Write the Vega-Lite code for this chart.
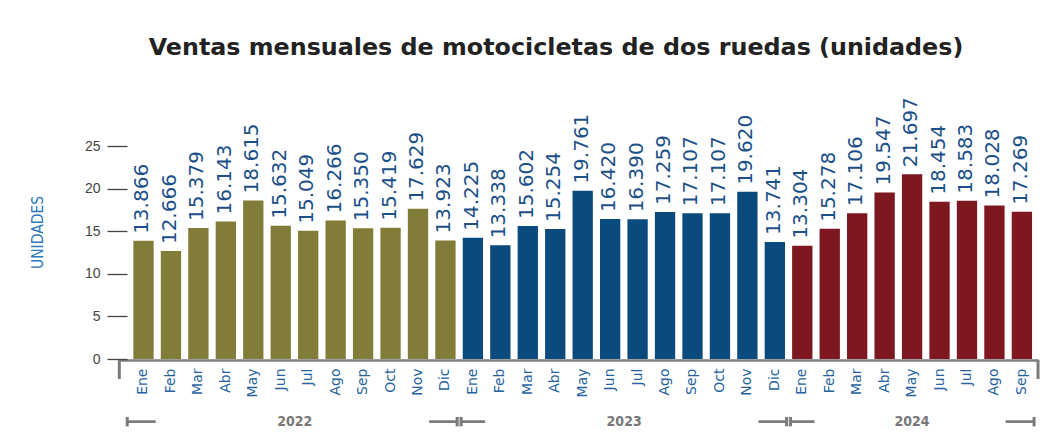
{
  "$schema": "https://vega.github.io/schema/vega-lite/v6.json",
  "width": 920,
  "height": 213,
  "autosize": "none",
  "padding": {"left": 118, "top": 146, "right": 26, "bottom": 87},
  "background": "white",
  "config": {"view": {"stroke": null}},
  "title": {
    "text": "Ventas mensuales de motocicletas de dos ruedas (unidades)",
    "font": "DejaVu Sans",
    "fontSize": 23.8,
    "fontWeight": "bold",
    "color": "#222222",
    "anchor": "middle",
    "dx": -22,
    "offset": 37
  },
  "datasets": {
    "ventas": [
      {"m": "Ene 2022", "year": "2022", "v": 13.866},
      {"m": "Feb 2022", "year": "2022", "v": 12.666},
      {"m": "Mar 2022", "year": "2022", "v": 15.379},
      {"m": "Abr 2022", "year": "2022", "v": 16.143},
      {"m": "May 2022", "year": "2022", "v": 18.615},
      {"m": "Jun 2022", "year": "2022", "v": 15.632},
      {"m": "Jul 2022", "year": "2022", "v": 15.049},
      {"m": "Ago 2022", "year": "2022", "v": 16.266},
      {"m": "Sep 2022", "year": "2022", "v": 15.350},
      {"m": "Oct 2022", "year": "2022", "v": 15.419},
      {"m": "Nov 2022", "year": "2022", "v": 17.629},
      {"m": "Dic 2022", "year": "2022", "v": 13.923},
      {"m": "Ene 2023", "year": "2023", "v": 14.225},
      {"m": "Feb 2023", "year": "2023", "v": 13.338},
      {"m": "Mar 2023", "year": "2023", "v": 15.602},
      {"m": "Abr 2023", "year": "2023", "v": 15.254},
      {"m": "May 2023", "year": "2023", "v": 19.761},
      {"m": "Jun 2023", "year": "2023", "v": 16.420},
      {"m": "Jul 2023", "year": "2023", "v": 16.390},
      {"m": "Ago 2023", "year": "2023", "v": 17.259},
      {"m": "Sep 2023", "year": "2023", "v": 17.107},
      {"m": "Oct 2023", "year": "2023", "v": 17.107},
      {"m": "Nov 2023", "year": "2023", "v": 19.620},
      {"m": "Dic 2023", "year": "2023", "v": 13.741},
      {"m": "Ene 2024", "year": "2024", "v": 13.304},
      {"m": "Feb 2024", "year": "2024", "v": 15.278},
      {"m": "Mar 2024", "year": "2024", "v": 17.106},
      {"m": "Abr 2024", "year": "2024", "v": 19.547},
      {"m": "May 2024", "year": "2024", "v": 21.697},
      {"m": "Jun 2024", "year": "2024", "v": 18.454},
      {"m": "Jul 2024", "year": "2024", "v": 18.583},
      {"m": "Ago 2024", "year": "2024", "v": 18.028},
      {"m": "Sep 2024", "year": "2024", "v": 17.269}
    ],
    "seg": [
      {"a": "Ene 2022", "b": "Ene 2022"},
      {"a": "Dic 2022", "b": "Ene 2023"},
      {"a": "Dic 2023", "b": "Ene 2024"},
      {"a": "Sep 2024", "b": "Sep 2024"}
    ],
    "first": [{"a": "Ene 2022"}],
    "last": [{"a": "Sep 2024"}],
    "dbl": [{"a": "Ene 2023"}, {"a": "Ene 2024"}]
  },
  "layer": [
    {
      "data": {"name": "ventas"},
      "mark": {"type": "bar"},
      "encoding": {
        "x": {
          "field": "m",
          "type": "ordinal",
          "sort": null,
          "scale": {
            "domain": ["Ene 2022","Feb 2022","Mar 2022","Abr 2022","May 2022","Jun 2022","Jul 2022","Ago 2022","Sep 2022","Oct 2022","Nov 2022","Dic 2022","Ene 2023","Feb 2023","Mar 2023","Abr 2023","May 2023","Jun 2023","Jul 2023","Ago 2023","Sep 2023","Oct 2023","Nov 2023","Dic 2023","Ene 2024","Feb 2024","Mar 2024","Abr 2024","May 2024","Jun 2024","Jul 2024","Ago 2024","Sep 2024"],
            "paddingInner": 0.26,
            "paddingOuter": 0.388,
            "align": 0.72
          },
          "axis": {
            "orient": "bottom",
            "title": null,
            "offset": 1,
            "labelExpr": "split(datum.value, ' ')[0]",
            "labelAngle": -90,
            "labelAlign": "right",
            "labelBaseline": "middle",
            "labelPadding": 8,
            "labelFont": "DejaVu Sans",
            "labelFontSize": 14,
            "labelColor": "#2763a0",
            "labelOverlap": false,
            "ticks": false,
            "domain": true,
            "domainColor": "#7f7f7f",
            "domainWidth": 2.7
          }
        },
        "y": {
          "field": "v",
          "type": "quantitative",
          "scale": {"domain": [0, 25], "nice": false, "zero": true},
          "axis": {
            "title": "UNIDADES",
            "titleColor": "#2e7bbd",
            "titleFont": "Liberation Sans Narrow, DejaVu Sans Condensed, Liberation Sans",
            "titleFontSize": 15.5,
            "titleFontWeight": "normal",
            "titleX": -82,
            "titleY": 86,
            "values": [0, 5, 10, 15, 20, 25],
            "offset": -9,
            "tickSize": 20,
            "tickColor": "#444444",
            "tickWidth": 1.3,
            "labelColor": "#444444",
            "labelFont": "Liberation Sans Narrow, Liberation Sans",
            "labelFontSize": 14,
            "labelPadding": 7,
            "domain": false,
            "grid": false
          }
        },
        "color": {
          "field": "year",
          "type": "nominal",
          "scale": {"domain": ["2022", "2023", "2024"], "range": ["#817c38", "#0a4a7c", "#7d1720"]},
          "legend": null
        }
      }
    },
    {
      "data": {"name": "ventas"},
      "mark": {"type": "text", "angle": -90, "align": "left", "baseline": "middle", "dx": 7, "dy": -1, "font": "DejaVu Sans", "fontSize": 20, "color": "#1b5089"},
      "encoding": {
        "x": {"field": "m", "type": "ordinal", "sort": null, "axis": null},
        "y": {"field": "v", "type": "quantitative"},
        "text": {"field": "v", "type": "quantitative", "format": ".3f"}
      }
    },
    {
      "data": {"name": "seg"},
      "mark": {"type": "rule", "color": "#7a7a7a", "strokeWidth": 2.7},
      "encoding": {
        "x": {
          "field": "a",
          "type": "ordinal",
          "bandPosition": -0.3,
          "axis": {
            "orient": "bottom",
            "title": null,
            "labelExpr": "datum.value == 'Jun 2022' ? '2022' : datum.value == 'Jun 2023' ? '2023' : datum.value == 'May 2024' ? '2024' : ''",
            "labelAngle": 0,
            "labelAlign": "center",
            "labelBaseline": "top",
            "labelPadding": 55,
            "labelOffset": {"condition": {"test": "datum.value == 'May 2024'", "value": 0}, "value": 14},
            "labelFont": "Liberation Sans Narrow, DejaVu Sans Condensed, Liberation Sans",
            "labelFontSize": 14,
            "labelFontWeight": "bold",
            "labelColor": "#777777",
            "labelOverlap": false,
            "ticks": false,
            "domain": false
          }
        },
        "x2": {"field": "b", "bandPosition": 1.1},
        "y": {"datum": -7.35, "type": "quantitative"}
      }
    },
    {
      "data": {"name": "first"},
      "mark": {"type": "rule", "color": "#7a7a7a", "strokeWidth": 3},
      "encoding": {
        "x": {"field": "a", "type": "ordinal", "bandPosition": -0.3, "axis": null},
        "y": {"datum": -6.8, "type": "quantitative"},
        "y2": {"datum": -7.9}
      }
    },
    {
      "data": {"name": "last"},
      "mark": {"type": "rule", "color": "#7a7a7a", "strokeWidth": 3},
      "encoding": {
        "x": {"field": "a", "type": "ordinal", "bandPosition": 1.1, "axis": null},
        "y": {"datum": -6.8, "type": "quantitative"},
        "y2": {"datum": -7.9}
      }
    },
    {
      "data": {"name": "dbl"},
      "mark": {"type": "rule", "color": "#7a7a7a", "strokeWidth": 7},
      "encoding": {
        "x": {"field": "a", "type": "ordinal", "bandPosition": -0.177, "axis": null},
        "y": {"datum": -6.8, "type": "quantitative"},
        "y2": {"datum": -7.9}
      }
    },
    {
      "data": {"name": "dbl"},
      "mark": {"type": "rule", "color": "#d8d8d8", "strokeWidth": 1.2},
      "encoding": {
        "x": {"field": "a", "type": "ordinal", "bandPosition": -0.177, "axis": null},
        "y": {"datum": -6.8, "type": "quantitative"},
        "y2": {"datum": -7.9}
      }
    },
    {
      "data": {"name": "first"},
      "mark": {"type": "rule", "color": "#7a7a7a", "strokeWidth": 3},
      "encoding": {
        "x": {"field": "a", "type": "ordinal", "bandPosition": -0.69, "axis": null},
        "y": {"datum": -0.1, "type": "quantitative"},
        "y2": {"datum": -2.35}
      }
    },
    {
      "data": {"name": "last"},
      "mark": {"type": "rule", "color": "#7a7a7a", "strokeWidth": 3},
      "encoding": {
        "x": {"field": "a", "type": "ordinal", "bandPosition": 1.295, "axis": null},
        "y": {"datum": -0.1, "type": "quantitative"},
        "y2": {"datum": -2.35}
      }
    }
  ],
  "resolve": {"axis": {"x": "independent"}}
}
